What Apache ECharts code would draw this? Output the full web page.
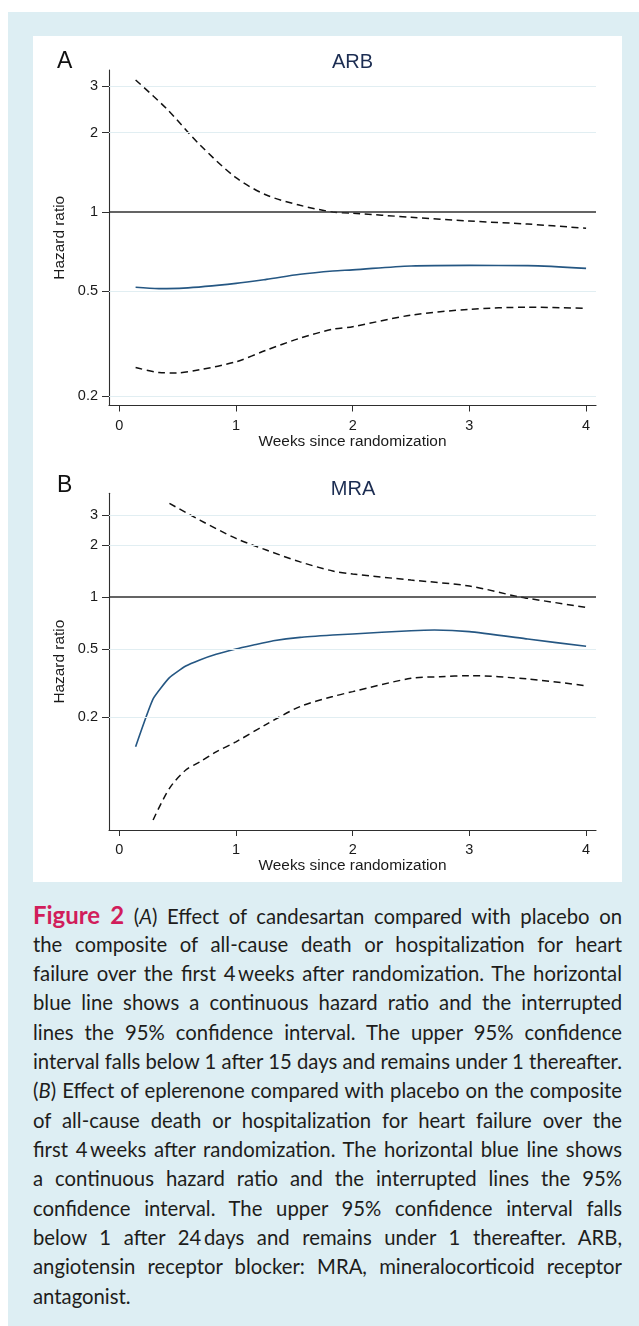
<!DOCTYPE html>
<html>
<head>
<meta charset="utf-8">
<script src="https://cdn.jsdelivr.net/npm/echarts@6.0.0/dist/echarts.min.js"></script>
<style>
  html, body { margin: 0; padding: 0; background: #ffffff; }
  body { width: 639px; height: 1326px; position: relative; overflow: hidden; }
  #bg { position: absolute; left: 8px; top: 12px; width: 631px; height: 1314px; background: #ddeef3; }
  #panel { position: absolute; left: 32.6px; top: 36px; width: 589.4px; height: 846px; background: #ffffff; }
  #chart { position: absolute; left: 0; top: 0; width: 639px; height: 900px; }
  #caption { position: absolute; left: 33px; top: 900.3px; width: 589px;
    font-family: Lato, "Noto Sans", sans-serif; font-size: 19.5px; line-height: 29.35px; color: #1d1d1b; }
  .ln { width: 589px; height: 29.35px; white-space: nowrap; overflow: visible; }
  .fig { color: #d11d5b; font-weight: bold; font-size: 1.18em; }
</style>
</head>
<body>
<div id="bg"></div>
<div id="panel"></div>
<div id="chart"></div>
<div id="caption">
  <div class="ln"><span class="in"><span class="fig">Figure 2</span> (<i>A</i>) Effect of candesartan compared with placebo on</span></div>
  <div class="ln"><span class="in">the composite of all-cause death or hospitalization for heart</span></div>
  <div class="ln"><span class="in">failure over the first 4&#8201;weeks after randomization. The horizontal</span></div>
  <div class="ln"><span class="in">blue line shows a continuous hazard ratio and the interrupted</span></div>
  <div class="ln"><span class="in">lines the 95% confidence interval. The upper 95% confidence</span></div>
  <div class="ln"><span class="in">interval falls below 1 after 15 days and remains under 1 thereafter.</span></div>
  <div class="ln"><span class="in">(<i>B</i>) Effect of eplerenone compared with placebo on the composite</span></div>
  <div class="ln"><span class="in">of all-cause death or hospitalization for heart failure over the</span></div>
  <div class="ln"><span class="in">first 4&#8201;weeks after randomization. The horizontal blue line shows</span></div>
  <div class="ln"><span class="in">a continuous hazard ratio and the interrupted lines the 95%</span></div>
  <div class="ln"><span class="in">confidence interval. The upper 95% confidence interval falls</span></div>
  <div class="ln"><span class="in">below 1 after 24&#8201;days and remains under 1 thereafter. ARB,</span></div>
  <div class="ln"><span class="in">angiotensin receptor blocker: MRA, mineralocorticoid receptor</span></div>
  <div class="ln last"><span class="in">antagonist.</span></div>
</div>
<script>
// ---------------- data ----------------
const weekTicks = [0, 1, 2, 3, 4];
const hrTicks = [0.2, 0.5, 1, 2, 3];
const gridValues = [0.2, 0.5, 2, 3];
const refValue = [1];

// Panel A: ARB
const arbWeeksUpper = [0.14, 0.40, 0.69, 1.00, 1.26, 1.55, 1.83, 2.00, 2.50, 3.00, 3.50, 4.00];
const arbUpper      = [3.17, 2.48, 1.80, 1.35, 1.16, 1.06, 1.00, 0.99, 0.955, 0.924, 0.90, 0.867];
const arbWeeksHR    = [0.14, 0.34, 0.55, 1.00, 1.26, 1.55, 1.83, 2.00, 2.50, 3.00, 3.50, 4.00];
const arbHR         = [0.518, 0.512, 0.514, 0.536, 0.555, 0.580, 0.597, 0.603, 0.624, 0.627, 0.626, 0.611];
const arbWeeksLower = [0.14, 0.34, 0.49, 0.69, 1.00, 1.26, 1.55, 1.83, 2.00, 2.50, 3.00, 3.50, 4.00];
const arbLower      = [0.257, 0.246, 0.245, 0.252, 0.270, 0.299, 0.332, 0.359, 0.367, 0.406, 0.427, 0.435, 0.431];

// Panel B: MRA
const mraWeeksUpper = [0.43, 0.69, 1.00, 1.26, 1.55, 1.83, 2.00, 2.50, 3.00, 3.43, 3.50, 4.00];
const mraUpper      = [3.50, 2.80, 2.19, 1.875, 1.60, 1.416, 1.36, 1.255, 1.158, 1.00, 0.982, 0.871];
const mraWeeksHR    = [0.14, 0.29, 0.43, 0.57, 0.69, 0.83, 1.00, 1.15, 1.32, 1.55, 1.83, 2.00, 2.50, 2.70, 3.00, 3.50, 4.00];
const mraHR         = [0.135, 0.256, 0.340, 0.397, 0.431, 0.465, 0.499, 0.526, 0.557, 0.583, 0.601, 0.610, 0.637, 0.643, 0.629, 0.570, 0.517];
const mraWeeksLower = [0.29, 0.43, 0.57, 0.69, 0.83, 1.00, 1.26, 1.55, 1.83, 2.00, 2.50, 2.75, 3.00, 3.50, 4.00];
const mraLower      = [0.0506, 0.0773, 0.0988, 0.110, 0.126, 0.144, 0.182, 0.231, 0.264, 0.282, 0.337, 0.344, 0.349, 0.334, 0.305];

// ---------------- helpers ----------------
const zip = (xs, ys) => xs.map((x, i) => [x, ys[i]]);
const FONT = '"Liberation Sans", Arial, sans-serif';
const AXIS_COLOR = '#2e2e2e';

function xAxisCfg(gridIndex) {
  return {
    type: 'value', gridIndex, min: -0.088, max: 4.085,
    axisLine: { show: true, onZero: false, lineStyle: { color: AXIS_COLOR, width: 1.1 } },
    axisTick: { show: true, length: 6, customValues: weekTicks, lineStyle: { color: AXIS_COLOR } },
    axisLabel: { show: true, customValues: weekTicks, fontSize: 14.5, margin: 12.5, color: '#1a1a1a', fontFamily: FONT },
    splitLine: { show: false },
    name: 'Weeks since randomization', nameLocation: 'middle', nameGap: 27,
    nameTextStyle: { fontSize: 15.4, color: '#1a1a1a', fontFamily: FONT }
  };
}
function yAxisCfg(gridIndex, min, max) {
  return {
    type: 'log', logBase: 10, gridIndex, min, max,
    axisLine: { show: true, onZero: false, lineStyle: { color: AXIS_COLOR, width: 1.1 } },
    axisTick: { show: true, length: 7, customValues: hrTicks, lineStyle: { color: AXIS_COLOR } },
    axisLabel: { show: true, customValues: hrTicks, fontSize: 14.5, margin: 11, color: '#1a1a1a', fontFamily: FONT,
      formatter: v => String(+(+v).toPrecision(3)) },
    splitLine: { show: false }, minorTick: { show: false }, minorSplitLine: { show: false },
    name: 'Hazard ratio', nameLocation: 'middle', nameGap: 32,
    nameTextStyle: { fontSize: 15.4, color: '#1a1a1a', fontFamily: FONT }
  };
}
function refSeries(idx) {
  return [{
    type: 'line', xAxisIndex: idx, yAxisIndex: idx, data: [], silent: true, z: 1,
    markLine: { silent: true, symbol: 'none', label: { show: false }, animation: false,
      lineStyle: { color: '#e1eef2', width: 1.2, type: 'solid' },
      data: gridValues.map(v => ({ yAxis: v })) }
  }, {
    type: 'line', xAxisIndex: idx, yAxisIndex: idx, data: [], silent: true, z: 2,
    markLine: { silent: true, symbol: 'none', label: { show: false }, animation: false,
      lineStyle: { color: '#303030', width: 1.7, type: 'solid' },
      data: refValue.map(v => ({ yAxis: v })) }
  }];
}
function ciSeries(idx, xs, ys) {
  return { type: 'line', xAxisIndex: idx, yAxisIndex: idx, data: zip(xs, ys), showSymbol: false, symbol: 'none',
    smooth: 0.3, z: 3, silent: true,
    lineStyle: { color: '#111111', width: 1.5, type: [7, 4.5] } };
}
function hrSeries(idx, xs, ys, smooth) {
  return { type: 'line', xAxisIndex: idx, yAxisIndex: idx, data: zip(xs, ys), showSymbol: false, symbol: 'none',
    smooth, z: 4, silent: true,
    lineStyle: { color: '#255783', width: 1.6, type: 'solid' } };
}

const chart = echarts.init(document.getElementById('chart'), null, { renderer: 'canvas' });
chart.setOption({
  animation: false,
  backgroundColor: 'transparent',
  grid: [
    { left: 109, top: 70, width: 487, height: 335.5, containLabel: false },
    { left: 109, top: 493.3, width: 487, height: 336.7, containLabel: false }
  ],
  xAxis: [xAxisCfg(0), xAxisCfg(1)],
  yAxis: [yAxisCfg(0, 0.1843, 3.459), yAxisCfg(1, 0.04426, 4.006)],
  graphic: [
    { type: 'text', x: 57, y: 61.5, style: { text: 'A', fontSize: 23, fill: '#111', fontFamily: FONT, textAlign: 'left', textVerticalAlign: 'middle' } },
    { type: 'text', x: 352.5, y: 62, style: { text: 'ARB', fontSize: 20, fill: '#1c2d52', fontFamily: FONT, textAlign: 'center', textVerticalAlign: 'middle' } },
    { type: 'text', x: 57, y: 485.5, style: { text: 'B', fontSize: 23, fill: '#111', fontFamily: FONT, textAlign: 'left', textVerticalAlign: 'middle' } },
    { type: 'text', x: 353, y: 489, style: { text: 'MRA', fontSize: 20, fill: '#1c2d52', fontFamily: FONT, textAlign: 'center', textVerticalAlign: 'middle' } }
  ],
  series: [
    ...refSeries(0),
    ciSeries(0, arbWeeksUpper, arbUpper),
    ciSeries(0, arbWeeksLower, arbLower),
    hrSeries(0, arbWeeksHR, arbHR, 0.3),
    ...refSeries(1),
    ciSeries(1, mraWeeksUpper, mraUpper),
    ciSeries(1, mraWeeksLower, mraLower),
    hrSeries(1, mraWeeksHR, mraHR, 0.15)
  ]
});

// ---------------- fit and justify caption lines ----------------
function justify() {
  const target = 589;
  const cap = document.getElementById('caption');
  const lines = Array.from(cap.querySelectorAll('.ln'));
  lines.forEach(ln => { ln.querySelector('.in').style.wordSpacing = '0px'; });
  cap.style.fontSize = '19.5px';
  let maxW = 0;
  lines.forEach(ln => {
    if (ln.classList.contains('last')) return;
    maxW = Math.max(maxW, ln.querySelector('.in').getBoundingClientRect().width);
  });
  if (maxW > 0) cap.style.fontSize = (19.5 * target / maxW) + 'px';
  lines.forEach(ln => {
    const inner = ln.querySelector('.in');
    if (ln.classList.contains('last')) return;
    const w = inner.getBoundingClientRect().width;
    const spaces = (inner.textContent.match(/ /g) || []).length;
    if (spaces > 0) inner.style.wordSpacing = ((target - w) / spaces) + 'px';
  });
}
justify();
if (document.fonts && document.fonts.ready) document.fonts.ready.then(justify);
</script>
</body>
</html>
